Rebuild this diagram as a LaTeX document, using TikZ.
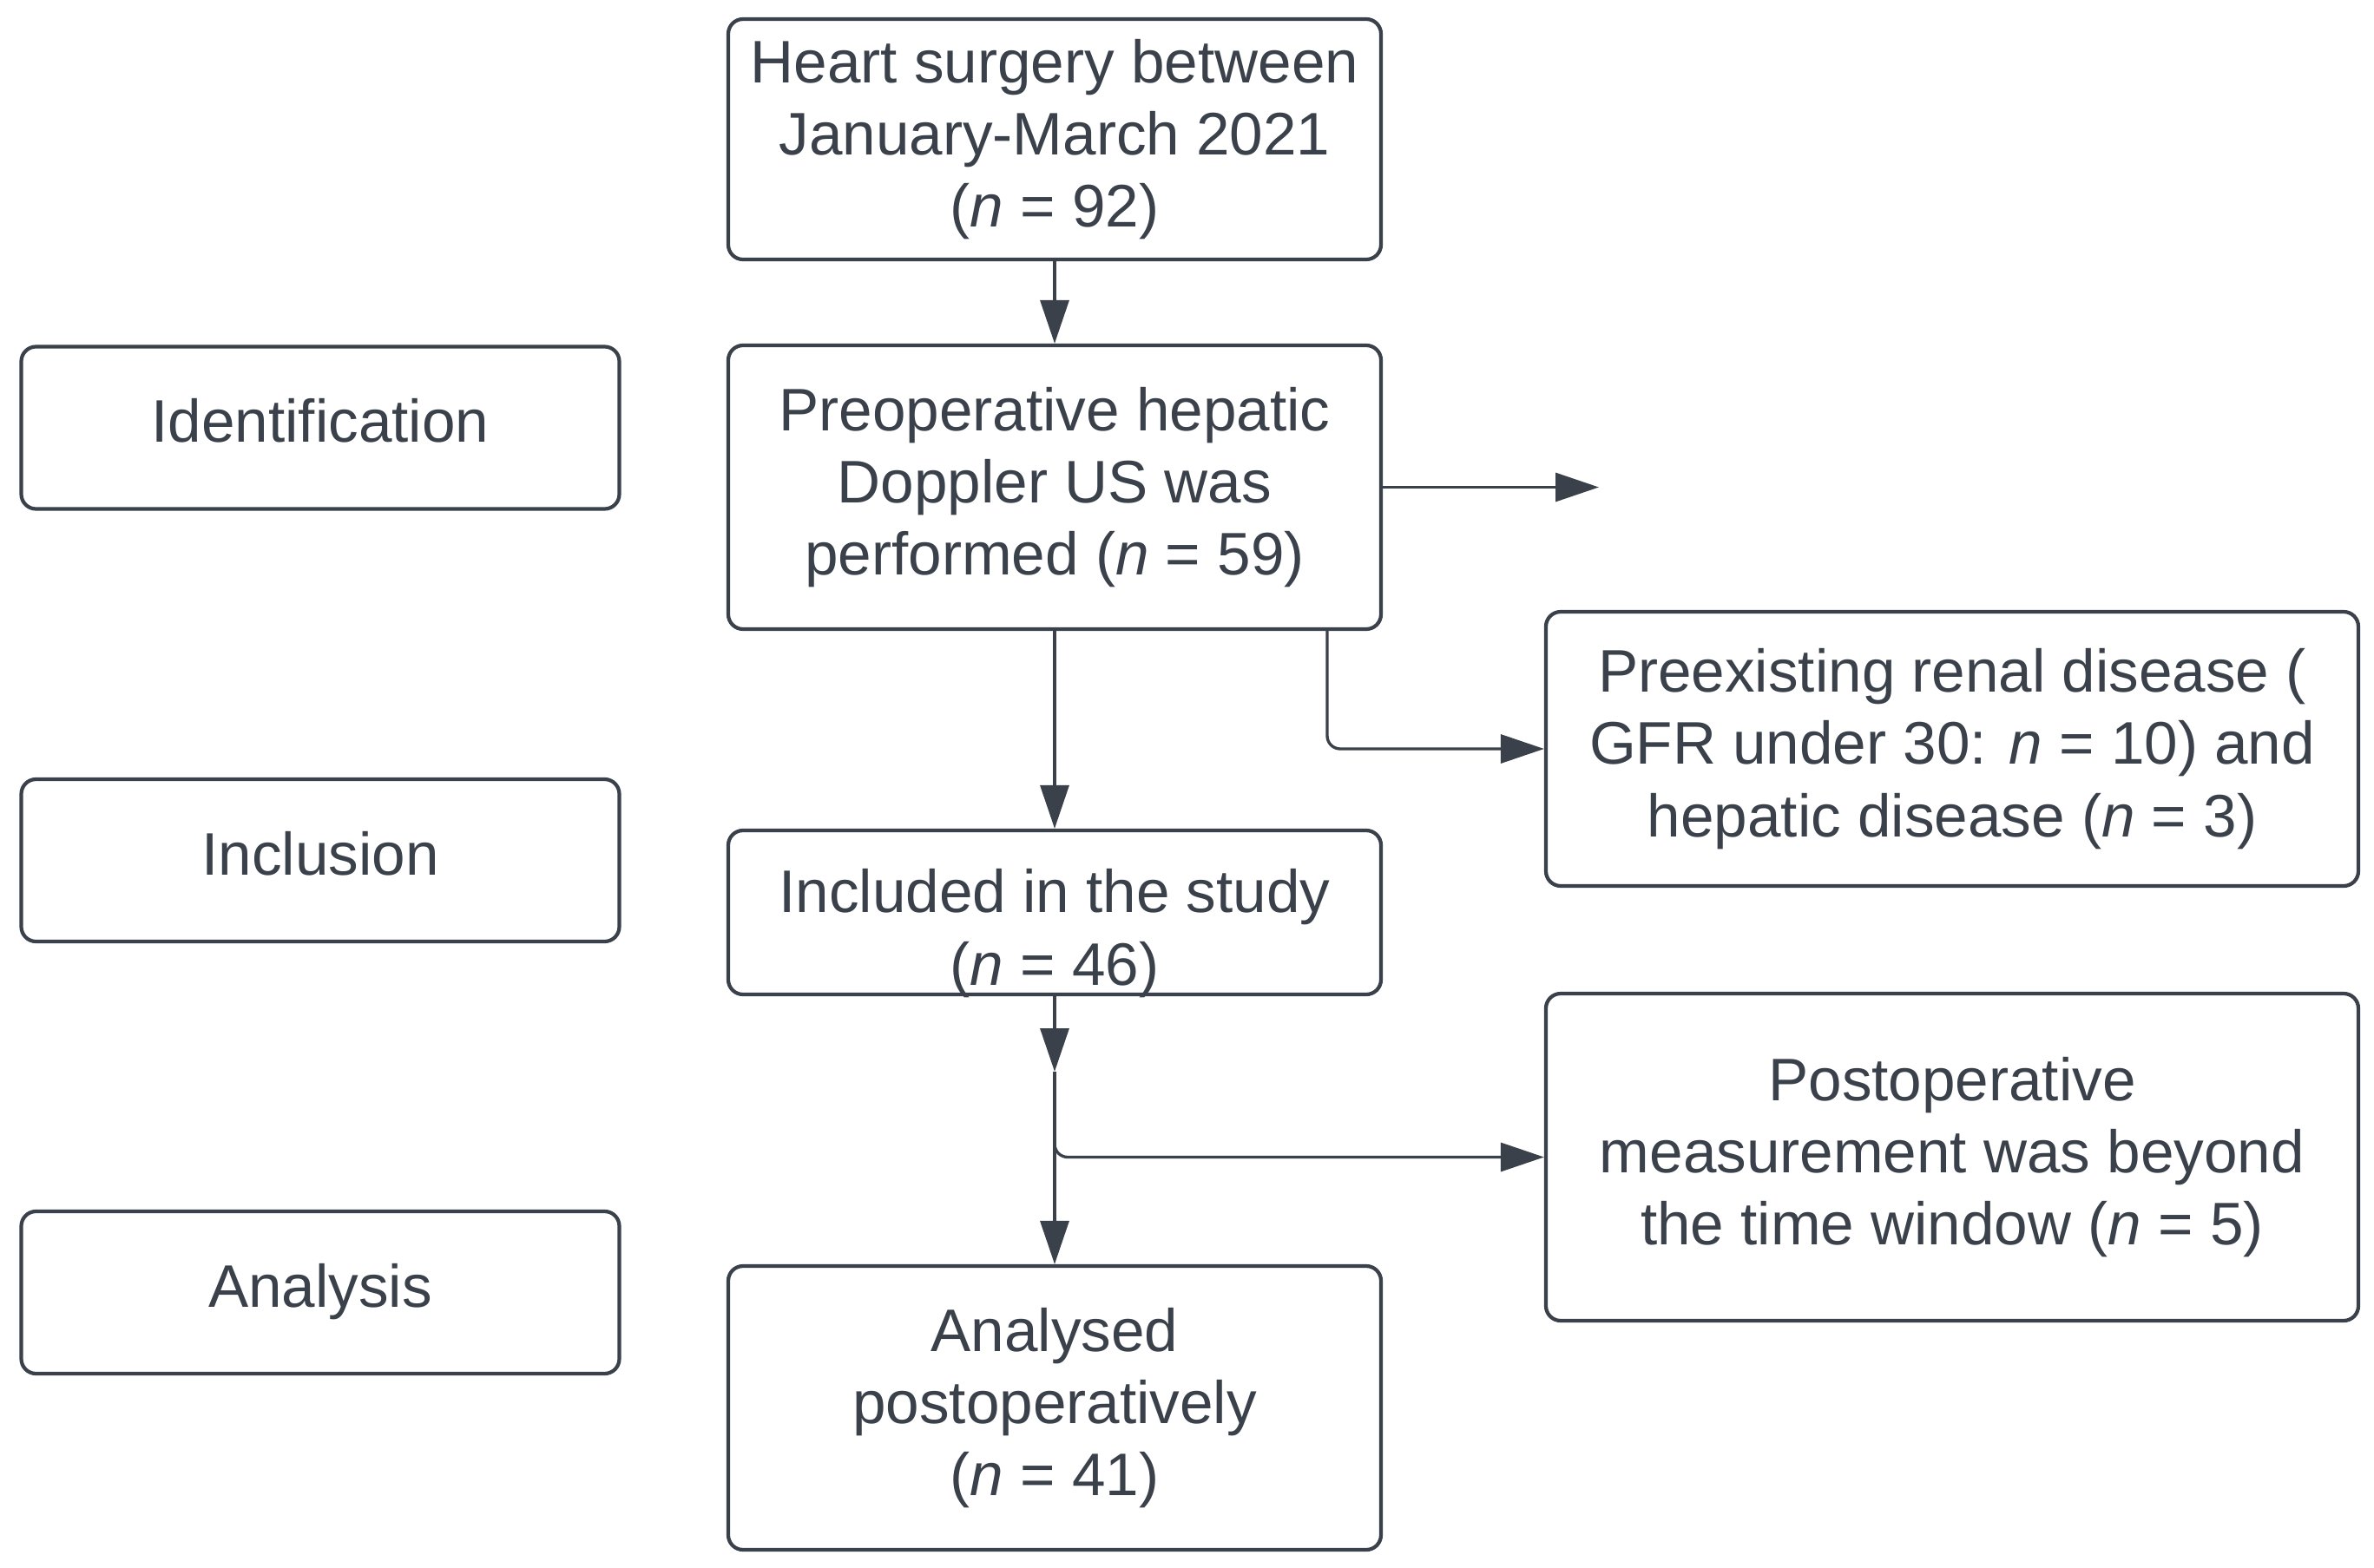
\documentclass[tikz,border=0pt]{standalone}
\usepackage{fontspec}
\setmainfont{Liberation Sans}
\usepackage{tikz}
\usetikzlibrary{positioning}
\usetikzlibrary{arrows.meta}
\definecolor{lucid}{RGB}{58,65,74}
\tikzset{every picture/.style={line width=0.95pt,color=lucid},
box/.style={draw,rounded corners=1.7mm,line width=1.2pt,align=center,inner sep=0pt,font=\fontsize{19.7}{23.7}\selectfont},
mainbox/.style={box,minimum width=7.52cm},
sidebox/.style={box,minimum width=6.89cm,minimum height=1.87cm},
exclbox/.style={box,minimum width=9.36cm},
arr/.style={-{Triangle[length=5mm,width=3.3mm]}}}

\begin{document}
\begin{tikzpicture}
\useasboundingbox (0,0) rectangle (27.35,-18.07);

% flow boxes
\node (heart) at (12.15,-1.605) [mainbox,minimum height=2.77cm] {Heart surgery between\\January-March 2021\\(\textit{n} = 92)};
\node (preop) at (12.15,-5.615) [mainbox,minimum height=3.27cm] {Preoperative hepatic\\Doppler US was\\performed (\textit{n} = 59)};
\node (incl) at (12.15,-10.515) [mainbox,minimum height=1.89cm] {};
\node (incltxt) at ([yshift=-2.4mm]incl.center) [align=center,font=\fontsize{19.7}{23.7}\selectfont] {Included in the study\\(\textit{n} = 46)};
\node (anal) at (12.15,-16.225) [mainbox,minimum height=3.27cm] {Analysed\\postoperatively\\(\textit{n} = 41)};

% stage labels
\node (ident) at (3.69,-4.93) [sidebox] {\strut Identification};
\node (inclu) at (3.69,-9.915) [sidebox] {\strut Inclusion};
\node (analy) at (3.69,-14.895) [sidebox] {\strut Analysis};

% exclusions
\node (renal) at (22.49,-8.63) [exclbox,minimum height=3.16cm] {Preexisting renal disease (\\GFR under 30: \textit{n} = 10) and\\hepatic disease (\textit{n} = 3)};
\node (late) at (22.49,-13.335) [exclbox,minimum height=3.77cm] {Postoperative\\measurement was beyond\\the time window (\textit{n} = 5)};

\coordinate (open) at (18.42,-5.615);
\coordinate (drop) at ([xshift=3.14cm]preop.south);
\coordinate (split) at (12.15,-12.35);

\draw[arr] (heart) -- (preop);
\draw[arr] (preop) -- (open);
\draw[arr] (preop) -- (incl);
\draw[arr,rounded corners=1.5mm] (drop) |- (renal.west);
\draw[arr] (incl) -- (split);
\draw[arr] (split) -- (anal);
\draw[arr,rounded corners=1.5mm] (split) |- (late.west);

\end{tikzpicture}
\end{document}
